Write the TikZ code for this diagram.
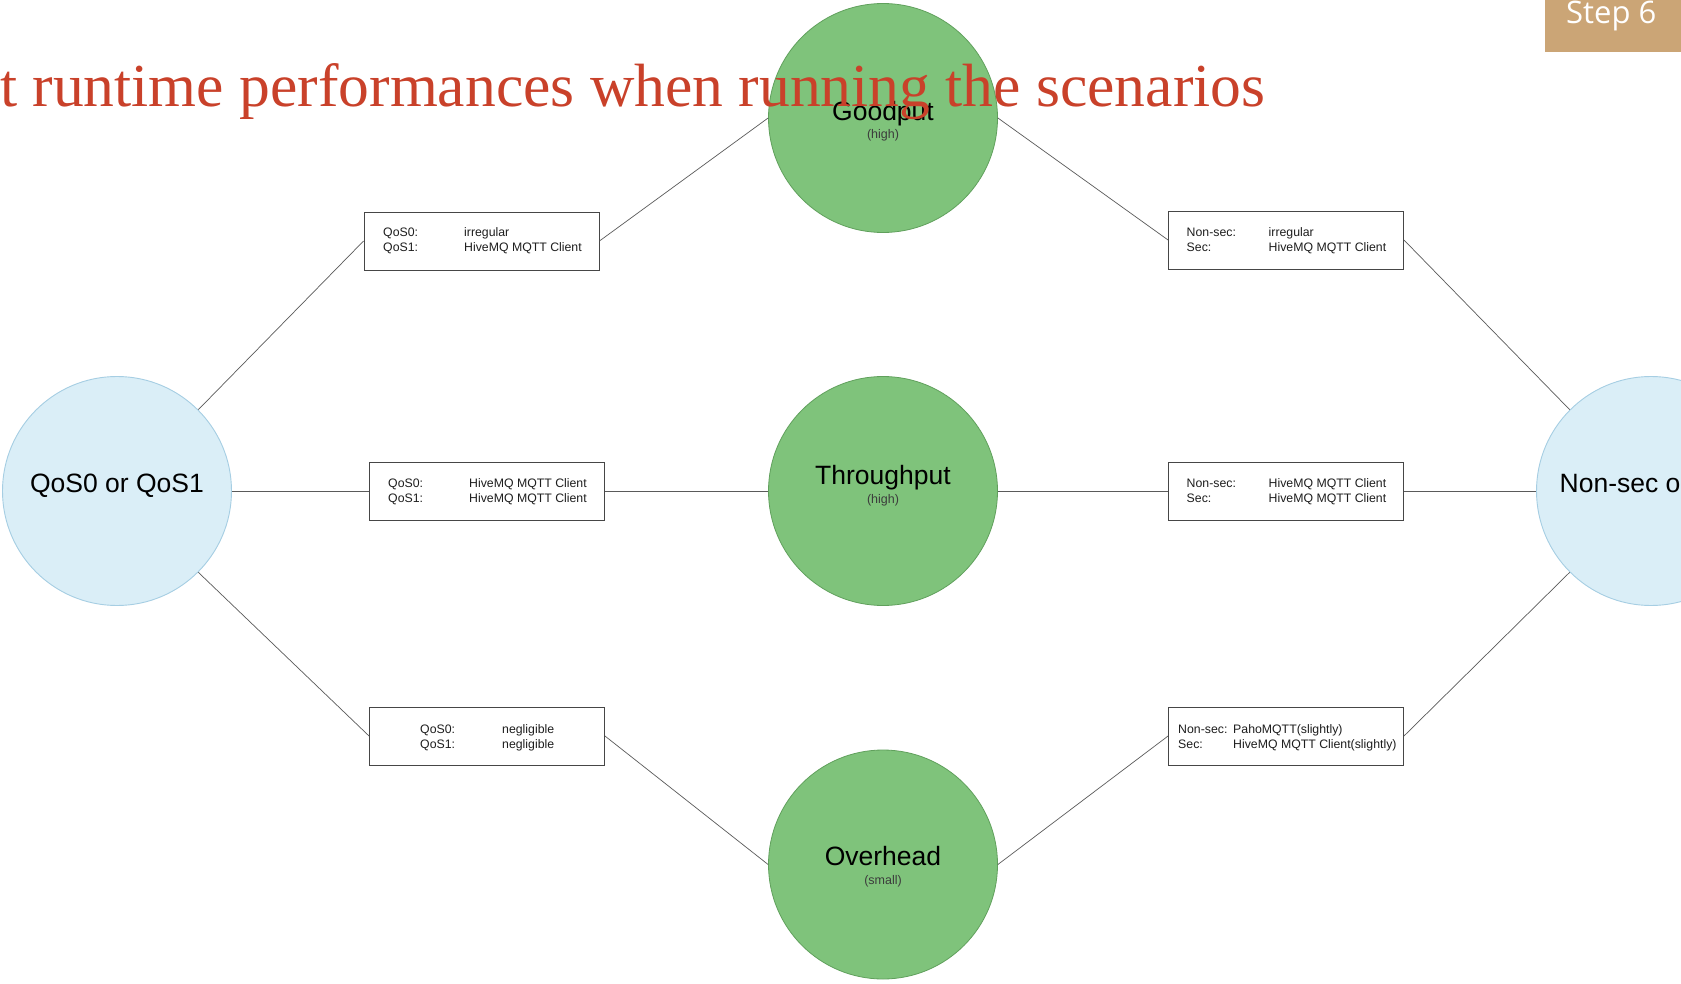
\documentclass[tikz,border=0pt]{standalone}
\usepackage{fontspec}
\usepackage{graphicx}
\setmainfont{Liberation Sans}
\newfontfamily\headfont{Liberation Serif}
\newfontfamily\stepfont{Open Sans}

\definecolor{greenfill}{RGB}{127,195,123}
\definecolor{greenedge}{RGB}{96,160,92}
\definecolor{bluefill}{RGB}{218,238,247}
\definecolor{blueedge}{RGB}{166,206,227}
\definecolor{linkgray}{RGB}{90,90,90}
\definecolor{boxedge}{RGB}{70,70,70}
\definecolor{subgray}{RGB}{60,60,60}
\definecolor{celltext}{RGB}{30,30,30}
\definecolor{headred}{RGB}{201,65,42}
\definecolor{steptan}{RGB}{203,165,118}

\begin{document}
\begin{tikzpicture}[x=1pt, y=-1pt,
  metric/.style={circle, draw=greenedge, fill=greenfill, line width=0.8pt,
                 minimum size=229pt, inner sep=0pt},
  choice/.style={circle, draw=blueedge, fill=bluefill, line width=0.9pt,
                 minimum size=229pt, inner sep=0pt},
  result/.style={rectangle, draw=boxedge, line width=0.9pt, fill=white,
                 minimum width=235pt, minimum height=58pt, inner sep=0pt},
  link/.style={draw=linkgray, line width=0.7pt},
  bigtxt/.style={font=\fontsize{26.5}{30}\selectfont, text=black,
                 inner sep=0pt, anchor=base},
  subtxt/.style={font=\fontsize{12.5}{14}\selectfont, text=subgray,
                 inner sep=0pt, anchor=base},
  cell/.style={font=\fontsize{12.3}{15}\selectfont, text=celltext,
               inner sep=0pt, anchor=base west},
]
\clip (0,0) rectangle (1681,984);
\fill[white] (0,0) rectangle (1681,984);

% choices on both sides
\node[choice] (qos) at (117,491) {};
\node[choice] (sec) at (1651,491) {};
\node[bigtxt] (qoslbl) at (117,492) {QoS0 or QoS1};
\node[bigtxt] (seclbl) at (1651,492) {Non-sec or Sec};

% measured quantities in the middle
\node[metric] (good) at (883,118) {};
\node[metric] (thru) at (883,491) {};
\node[metric] (over) at (883,864.5) {};
\node[bigtxt] (goodlbl) at (883,121) {Goodput};
\node[subtxt] (goodsub) at (883,139) {(high)};
\node[bigtxt] (thrulbl) at (883,484) {Throughput};
\node[subtxt] (thrusub) at (883,503) {(high)};
\node[bigtxt] (overlbl) at (883,865.5) {Overhead};
\node[subtxt] (oversub) at (883,884) {(small)};

% result boxes
\node[result] (tl) at (481.5,241) {};
\node[result] (ml) at (487,491) {};
\node[result] (bl) at (487,736) {};
\node[result] (tr) at (1286,240) {};
\node[result] (mr) at (1286,491) {};
\node[result] (br) at (1286,736) {};

\node[cell] (tltxt) at (383,236.5) {\begin{tabular}[t]{@{}p{81pt}@{}l@{}}QoS0: & irregular\\ QoS1: & HiveMQ MQTT Client\end{tabular}};
\node[cell] (mltxt) at (388,487) {\begin{tabular}[t]{@{}p{81pt}@{}l@{}}QoS0: & HiveMQ MQTT Client\\ QoS1: & HiveMQ MQTT Client\end{tabular}};
\node[cell] (bltxt) at (420,733) {\begin{tabular}[t]{@{}p{82pt}@{}l@{}}QoS0: & negligible\\ QoS1: & negligible\end{tabular}};
\node[cell] (trtxt) at (1186.5,236.5) {\begin{tabular}[t]{@{}p{82pt}@{}l@{}}Non-sec: & irregular\\ Sec: & HiveMQ MQTT Client\end{tabular}};
\node[cell] (mrtxt) at (1186.5,487) {\begin{tabular}[t]{@{}p{82pt}@{}l@{}}Non-sec: & HiveMQ MQTT Client\\ Sec: & HiveMQ MQTT Client\end{tabular}};
\node[cell] (brtxt) at (1178,733) {\begin{tabular}[t]{@{}p{55pt}@{}l@{}}Non-sec: & PahoMQTT(slightly)\\ Sec: & HiveMQ MQTT Client(slightly)\end{tabular}};

% connectors
\draw[link] (qos.45) -- (tl.west);
\draw[link] (tl.east) -- (good.west);
\draw[link] (good.east) -- (tr.west);
\draw[link] (tr.east) -- (sec.135);

\draw[link] (qos.east) -- (ml.west);
\draw[link] (ml.east) -- (thru.west);
\draw[link] (thru.east) -- (mr.west);
\draw[link] (mr.east) -- (sec.west);

\draw[link] (qos.-45) -- (bl.west);
\draw[link] (bl.east) -- (over.west);
\draw[link] (over.east) -- (br.west);
\draw[link] (br.east) -- (sec.-135);

% step badge
\fill[steptan] (1545,0) rectangle (1681,52);
\node[font=\stepfont\fontsize{31}{34}\selectfont, text=white, inner sep=0pt,
      anchor=base west] (step) at (1566,24) {Step 6};

% heading
\node[text=headred, inner sep=0pt, anchor=base west] (head) at (0,107)
  {\resizebox{1265pt}{43pt}{\headfont\fontsize{60}{60}\selectfont t runtime performances when running the scenarios}};
\end{tikzpicture}
\end{document}
